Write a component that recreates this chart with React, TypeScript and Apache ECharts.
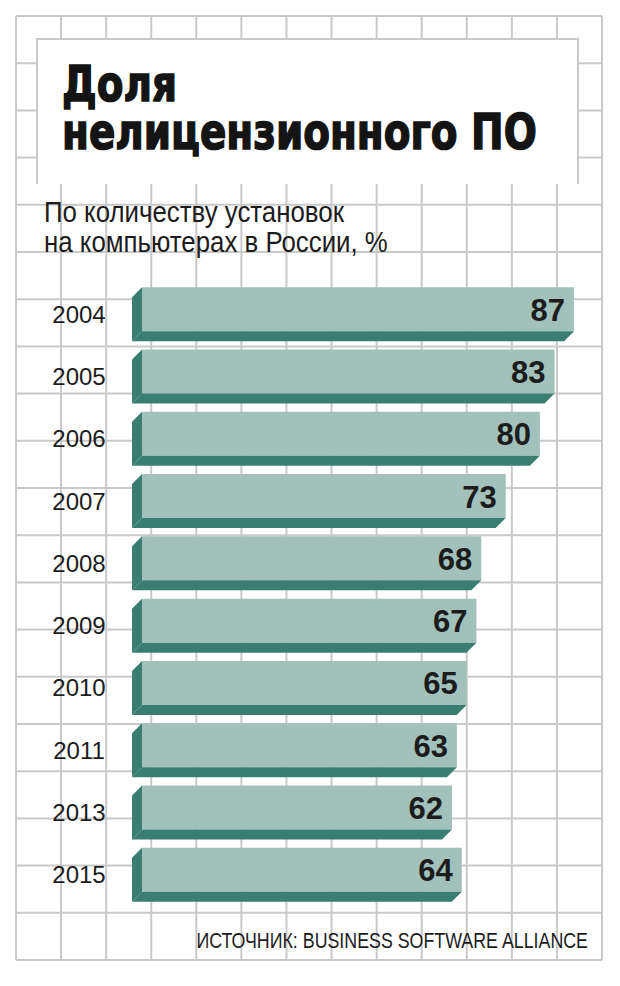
import React, { useEffect, useRef } from "react";
import * as echarts from "echarts";

const years = ["2004", "2005", "2006", "2007", "2008", "2009", "2010", "2011", "2013", "2015"];
const shares = [87, 83, 80, 73, 68, 67, 65, 63, 62, 64];
const titleLines = ["Доля", "нелицензионного ПО"];
const subtitleLines = ["По количеству установок", "на компьютерах в России, %"];
const sourceText = "ИСТОЧНИК: BUSINESS SOFTWARE ALLIANCE";

const W = 620;
const H = 986;
const FRONT = "#a1c1ba";
const DARK = "#3a7e71";
const GRIDC = "#c9c9c9";
const INK = "#1c1c1c";

function measure(text: string, font: string): number {
  const c = document.createElement("canvas");
  const ctx = c.getContext("2d")!;
  ctx.font = font;
  return ctx.measureText(text).width;
}

export default function App() {
  const ref = useRef<HTMLDivElement>(null);
  useEffect(() => {
    const chart = echarts.init(ref.current!, null, { renderer: "svg" });
    const xMin = -1.5;
    const depth = 10;
    const frontH = 44;

    const g: any[] = [];
    // background grid (decoration)
    const gx0 = 16, gx1 = 602, gy0 = 16, gy1 = 960;
    for (let k = 0; k <= 13; k++) {
      const x = gx0 + ((gx1 - gx0) * k) / 13;
      g.push({ type: "line", silent: true, z: 0, shape: { x1: x, y1: gy0, x2: x, y2: gy1 }, style: { stroke: GRIDC, lineWidth: 2 } });
    }
    for (let j = 0; j <= 20; j++) {
      const y = gy0 + ((gy1 - gy0) * j) / 20;
      g.push({ type: "line", silent: true, z: 0, shape: { x1: gx0, y1: y, x2: gx1, y2: y }, style: { stroke: GRIDC, lineWidth: 2 } });
    }
    // title box
    g.push({ type: "rect", silent: true, z: 1, shape: { x: 37, y: 39, width: 541, height: 145 }, style: { fill: "#ffffff" } });
    g.push({ type: "polyline", silent: true, z: 1, shape: { points: [[37, 184], [37, 39], [578, 39], [578, 184]] }, style: { stroke: GRIDC, lineWidth: 2, fill: null } });

    // title
    const tFont = 'bold 50px "DejaVu Sans"';
    const tScale = 475 / measure(titleLines[1], tFont);
    [84, 132].forEach((y, i) => {
      g.push({
        type: "text", z: 5, x: 62, y, scaleX: tScale,
        style: {
          text: titleLines[i], x: 0, y: 0, font: tFont, fill: "#141414",
          stroke: "#141414", lineWidth: 1.6, align: "left", verticalAlign: "middle",
        },
      });
    });
    // subtitle
    const sFont = '29px "Liberation Sans"';
    const sScale = 344 / measure(subtitleLines[1], sFont);
    [212, 242].forEach((y, i) => {
      g.push({
        type: "text", z: 5, x: 44, y, scaleX: sScale,
        style: { text: subtitleLines[i], x: 0, y: 0, font: sFont, fill: INK, align: "left", verticalAlign: "middle" },
      });
    });
    // source
    const srcFont = '22px "Liberation Sans"';
    const srcScale = 393 / measure(sourceText, srcFont);
    g.push({
      type: "text", z: 5, x: 588, y: 940, scaleX: srcScale,
      style: { text: sourceText, x: 0, y: 0, font: srcFont, fill: INK, align: "right", verticalAlign: "middle" },
    });

    chart.setOption({
      animation: false,
      backgroundColor: "#ffffff",
      graphic: { elements: g },
      grid: { left: 142, right: 31.3, top: 283, bottom: 80, containLabel: false },
      xAxis: { type: "value", min: xMin, max: 90, show: false },
      yAxis: {
        type: "category",
        inverse: true,
        data: years,
        axisLine: { show: false },
        axisTick: { show: false },
        splitLine: { show: false },
        axisLabel: { fontSize: 24, color: INK, fontFamily: "Liberation Sans", align: "center", margin: 63 },
      },
      series: [
        {
          type: "custom",
          z: 10,
          data: shares.map((v, i) => [v, i]),
          encode: { x: 0, y: 1 },
          renderItem: (params: any, api: any) => {
            const v = api.value(0);
            const cat = api.value(1);
            const s = api.coord([xMin, cat]);
            const e = api.coord([v, cat]);
            const top = s[1] - (frontH + depth) / 2;
            const fb = top + frontH;
            const bot = fb + depth;
            const x0 = s[0];
            const x1 = e[0];
            return {
              type: "group",
              children: [
                { type: "rect", shape: { x: x0, y: top, width: x1 - x0, height: frontH }, style: { fill: FRONT } },
                { type: "polygon", shape: { points: [[x0, top], [x0 - depth, top + depth], [x0 - depth, bot], [x0, fb]] }, style: { fill: DARK } },
                { type: "polygon", shape: { points: [[x0, fb], [x1, fb], [x1 - depth, bot], [x0 - depth, bot]] }, style: { fill: DARK } },
                {
                  type: "text",
                  style: {
                    text: String(v), x: x1 - 9, y: top + frontH / 2 + 1, align: "right", verticalAlign: "middle",
                    fontSize: 31, fontWeight: "bold", fontFamily: "Liberation Sans", fill: INK,
                  },
                },
              ],
            };
          },
        },
      ],
    });
    return () => chart.dispose();
  }, []);
  return <div ref={ref} style={{ position: "fixed", left: 0, top: 0, width: W, height: H }} />;
}
